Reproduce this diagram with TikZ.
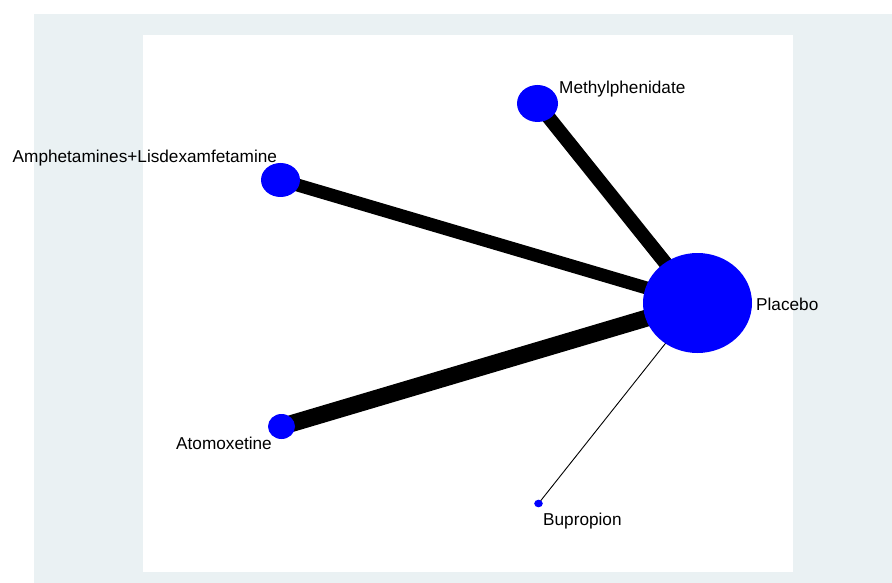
\documentclass[tikz,border=0pt]{standalone}
\usepackage{fontspec}
\setmainfont{Liberation Sans}
\definecolor{bgray}{RGB}{234,241,243}
\definecolor{nodeblue}{RGB}{0,0,255}
\begin{document}
\begin{tikzpicture}[x=1pt,y=-1pt,
  lbl/.style={anchor=base west, inner sep=0pt, font=\fontsize{17.2}{20}\selectfont},
  edge/.style={draw=black, line cap=butt}]
\useasboundingbox (0,0) rectangle (892,583);
\fill[bgray] (34,14) rectangle (892,583);
\fill[white] (143,35) rectangle (793,572);
% node centres
\coordinate (plac) at (697.5,303);
\coordinate (meth) at (537.5,103.5);
\coordinate (amph) at (280.5,180);
\coordinate (atom) at (281.5,426.5);
\coordinate (bupr) at (538.5,503.5);
% edges
\draw[edge, line width=14pt] (meth) -- (plac);
\draw[edge, line width=13pt] (amph) -- (plac);
\draw[edge, line width=17pt] (atom) -- (plac);
\draw[edge, line width=0.9pt] (bupr) -- (plac);
% nodes
\fill[nodeblue] (plac) ellipse [x radius=54.5, y radius=50];
\fill[nodeblue] (meth) ellipse [x radius=20.5, y radius=18.5];
\fill[nodeblue] (amph) ellipse [x radius=19.5, y radius=17];
\fill[nodeblue] (atom) ellipse [x radius=13.5, y radius=12.5];
\fill[nodeblue] (bupr) ellipse [x radius=4.3, y radius=3.8];
% labels
\node[lbl] (lplac) at (756,310) {Placebo};
\node[lbl] (lmeth) at (559,94) {Methylphenidate};
\node[lbl] (lamph) at (12.5,163) {Amphetamines+Lisdexamfetamine};
\node[lbl] (latom) at (176,449) {Atomoxetine};
\node[lbl] (lbupr) at (543,525) {Bupropion};
\end{tikzpicture}
\end{document}
